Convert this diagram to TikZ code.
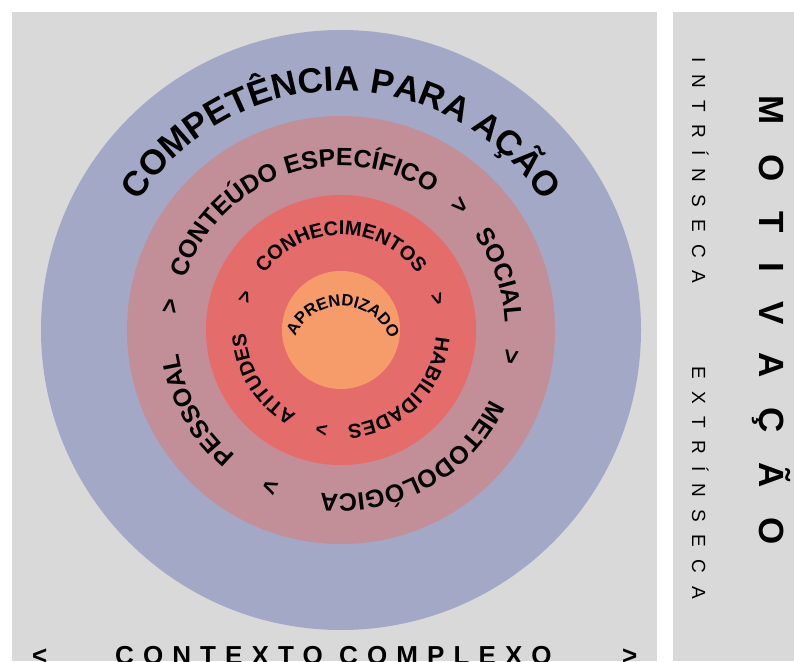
\documentclass[tikz,border=0pt]{standalone}
\usepackage{fontspec}
\setmainfont{Liberation Sans}
\usetikzlibrary{decorations.text}
\definecolor{panelgray}{HTML}{D9D9D9}
\definecolor{ringblue}{HTML}{A3A8C7}
\definecolor{ringmauve}{HTML}{C28E97}
\definecolor{ringred}{HTML}{E46C6A}
\definecolor{ringorange}{HTML}{F69C6A}
\newcommand{\outerfont}{\fontsize{35}{42}\selectfont\bfseries}
\newcommand{\midfont}{\fontsize{25}{30}\selectfont\bfseries}
\newcommand{\innerfont}{\fontsize{20}{24}\selectfont\bfseries}
\newcommand{\corefont}{\fontsize{16.5}{20}\selectfont\bfseries}
\tikzset{
  arctext/.style={decorate,decoration={text along path,text align=center,text={#1}}},
  sidetext/.style={rotate=-90,anchor=base west,inner sep=0pt}
}
\begin{document}
\begin{tikzpicture}[x=1pt,y=1pt]
\useasboundingbox (0,0) rectangle (794,661);
\fill[panelgray] (12,0) rectangle (657,649);
\fill[panelgray] (673,0) rectangle (794,649);
\coordinate (c) at (341,331);
\coordinate (k) at (342,304);
\fill[ringblue] (c) circle[radius=300pt];
\fill[ringmauve] (c) circle[radius=214pt];
\fill[ringred] (c) circle[radius=135pt];
\fill[ringorange] (c) circle[radius=59pt];
% outer ring
\path[arctext={|\outerfont|COMPETÊNCIA PARA AÇÃO},shift={(c)}] (170:239pt) arc[start angle=170,end angle=10,radius=239pt];
% middle ring
\path[arctext={|\midfont|CONTEÚDO ESPECÍFICO},shift={(c)}] (189:164pt) arc[start angle=189,end angle=29,radius=164pt];
\path[arctext={|\midfont|SOCIAL},shift={(c)}] (99:164pt) arc[start angle=99,end angle=-61,radius=164pt];
\path[arctext={|\midfont|METODOLÓGICA},shift={(c)}] (19:164pt) arc[start angle=19,end angle=-141,radius=164pt];
\path[arctext={|\midfont|PESSOAL},shift={(c)}] (289:164pt) arc[start angle=289,end angle=129,radius=164pt];
\foreach \a in {46,-9,-114,172}
  \path[arctext={|\midfont|>},shift={(c)}] (\a+20:164pt) arc[start angle=\a+20,end angle=\a-20,radius=164pt];
% inner ring
\path[arctext={|\innerfont|CONHECIMENTOS},shift={(c)}] (170:95pt) arc[start angle=170,end angle=10,radius=95pt];
\path[arctext={|\innerfont|HABILIDADES},shift={(c)}] (35:95pt) arc[start angle=35,end angle=-125,radius=95pt];
\path[arctext={|\innerfont|ATITUDES},shift={(c)}] (292:95pt) arc[start angle=292,end angle=132,radius=95pt];
\foreach \a in {18,-101,161}
  \path[arctext={|\innerfont|>},shift={(c)}] (\a+20:95pt) arc[start angle=\a+20,end angle=\a-20,radius=95pt];
% core
\path[arctext={|\corefont|APRENDIZADO},shift={(k)}] (173:51pt) arc[start angle=173,end angle=3,radius=51pt];
% right panel
\node[sidetext,font=\fontsize{35}{42}\selectfont\bfseries\addfontfeatures{LetterSpace=85}] (motiv) at (759,566) {MOTIVAÇÃO};
\node[sidetext,font=\fontsize{19}{23}\selectfont\addfontfeatures{LetterSpace=65}] (intr) at (692,604) {INTRÍNSECA};
\node[sidetext,font=\fontsize{19}{23}\selectfont\addfontfeatures{LetterSpace=65}] (extr) at (692,295) {EXTRÍNSECA};
% bottom line
\node[anchor=base west,inner sep=0pt,font=\fontsize{26}{31}\selectfont\bfseries\addfontfeatures{LetterSpace=35}] (ctx) at (115,-3) {CONTEXTO COMPLEXO};
\node[anchor=base west,inner sep=0pt,font=\fontsize{26}{31}\selectfont\bfseries] (lt) at (32,-3) {<};
\node[anchor=base west,inner sep=0pt,font=\fontsize{26}{31}\selectfont\bfseries] (gt) at (622,-3) {>};
\end{tikzpicture}
\end{document}
